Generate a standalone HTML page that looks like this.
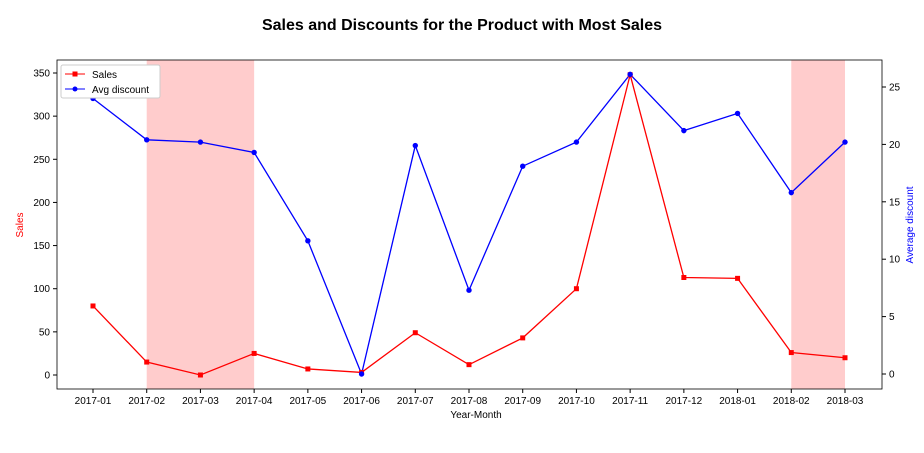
<!DOCTYPE html>
<html><head><meta charset="utf-8"><style>
body{margin:0;background:#fff;font-family:"Liberation Sans","DejaVu Sans",sans-serif}
</style></head><body>
<svg id="chart" width="924" height="448" xmlns="http://www.w3.org/2000/svg">
<text x="462" y="30" text-anchor="middle" font-size="16" font-weight="bold">Sales and Discounts for the Product with Most Sales</text>
<g id="shade"></g>
<g id="axes"></g>
<g id="marks"></g>
<g>
<rect x="61" y="65" width="99" height="33" fill="#fff" stroke="#ccc" rx="2"/>
<line x1="65" y1="74" x2="85" y2="74" stroke="red"/><rect x="72.5" y="71.5" width="5" height="5" fill="red"/>
<text x="92" y="78" font-size="10">Sales</text>
<line x1="65" y1="89" x2="85" y2="89" stroke="blue"/><circle cx="75" cy="89" r="2.5" fill="blue"/>
<text x="92" y="93" font-size="10">Avg discount</text>
</g>
<text x="476" y="418" text-anchor="middle" font-size="10">Year-Month</text>
<text transform="translate(23,225) rotate(-90)" text-anchor="middle" font-size="10" fill="red">Sales</text>
<text transform="translate(913,225) rotate(-90)" text-anchor="middle" font-size="10" fill="blue">Average discount</text>
</svg>
<script>
const categories=["2017-01","2017-02","2017-03","2017-04","2017-05","2017-06","2017-07","2017-08","2017-09","2017-10","2017-11","2017-12","2018-01","2018-02","2018-03"];
const sales=[80,15,0,25,7,3,49,12,43,100,348,113,112,26,20];
const discount=[24.0,20.4,20.2,19.3,11.6,0,19.9,7.3,18.1,20.2,26.1,21.2,22.7,15.8,20.2];
const leftTicks=[0,50,100,150,200,250,300,350];
const rightTicks=[0,5,10,15,20,25];
const shadedRanges=[[1,3],[13,14]];
const L=57,R=882,T=60,B=389;
const NS="http://www.w3.org/2000/svg";
const x=i=>93+i*(845-93)/(categories.length-1);
const yL=v=>375-v*302/350;
const yR=v=>374-v*287/25;
function mk(p,t,a){const e=document.createElementNS(NS,t);for(const k in a)e.setAttribute(k,a[k]);p.appendChild(e);return e;}
const sh=document.getElementById('shade'),ax=document.getElementById('axes'),mg=document.getElementById('marks');
shadedRanges.forEach(r=>{const e=mk(sh,'rect',{x:x(r[0]),y:T,width:x(r[1])-x(r[0]),height:B-T,fill:'#ff9999','fill-opacity':0.5});

});
mk(ax,'rect',{x:L,y:T,width:R-L,height:B-T,fill:'none',stroke:'#000','stroke-width':0.8});
categories.forEach((c,i)=>{mk(ax,'line',{x1:x(i),x2:x(i),y1:B,y2:B+4,stroke:'#000'});
const t=mk(ax,'text',{x:x(i),y:B+15,'text-anchor':'middle','font-size':10});t.textContent=c;

});
leftTicks.forEach(v=>{mk(ax,'line',{x1:L-4,x2:L,y1:yL(v),y2:yL(v),stroke:'#000'});
const t=mk(ax,'text',{x:L-7,y:yL(v)+3.5,'text-anchor':'end','font-size':10});t.textContent=v;

});
rightTicks.forEach(v=>{mk(ax,'line',{x1:R,x2:R+4,y1:yR(v),y2:yR(v),stroke:'#000'});
const t=mk(ax,'text',{x:R+7,y:yR(v)+3.5,'font-size':10});t.textContent=v;

});
const sl=mk(mg,'polyline',{points:sales.map((v,i)=>x(i)+','+yL(v)).join(' '),fill:'none',stroke:'red','stroke-width':1.3});


const dl=mk(mg,'polyline',{points:discount.map((v,i)=>x(i)+','+yR(v)).join(' '),fill:'none',stroke:'blue','stroke-width':1.3});


sales.forEach((v,i)=>{const e=mk(mg,'rect',{x:x(i)-2.5,y:yL(v)-2.5,width:5,height:5,fill:'red'});

});
discount.forEach((v,i)=>{const e=mk(mg,'circle',{cx:x(i),cy:yR(v),r:2.7,fill:'blue'});

});
</script>
</body></html>
